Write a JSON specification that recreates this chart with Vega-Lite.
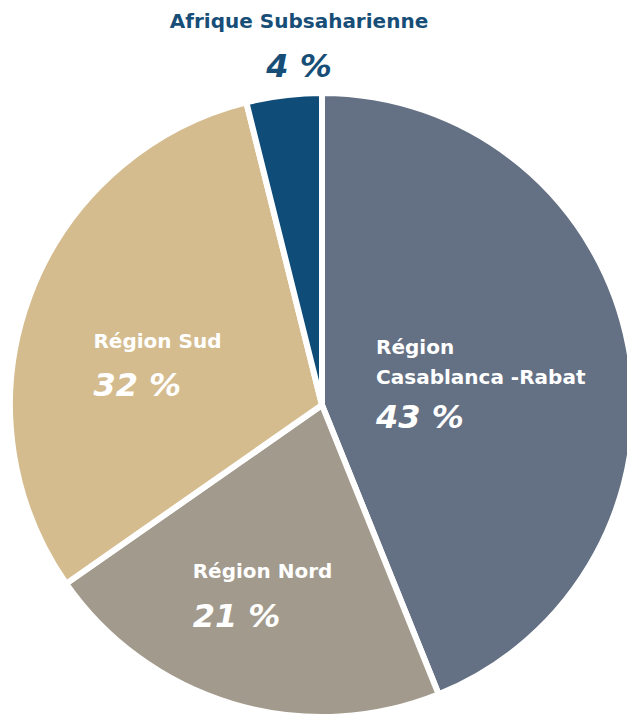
{
  "$schema": "https://vega.github.io/schema/vega-lite/v6.json",
  "width": 610,
  "height": 622,
  "autosize": {"type": "none"},
  "padding": {"left": 17, "top": 94, "right": 0, "bottom": 0},
  "background": "white",
  "config": {"view": {"stroke": null}},
  "data": {
    "values": [
      {"region": "Région Casablanca -Rabat", "name": "Région\nCasablanca -Rabat", "value": 43.9, "pct": "43 %", "rang": 1},
      {"region": "Région Nord", "name": "Région Nord", "value": 21.4, "pct": "21 %", "rang": 2},
      {"region": "Région Sud", "name": "Région Sud", "value": 30.8, "pct": "32 %", "rang": 3},
      {"region": "Afrique Subsaharienne", "name": "Afrique Subsaharienne", "value": 3.9, "pct": "4 %", "rang": 4}
    ]
  },
  "encoding": {
    "theta": {"field": "value", "type": "quantitative", "stack": true},
    "order": {"field": "rang", "type": "quantitative"}
  },
  "layer": [
    {
      "mark": {"type": "arc", "outerRadius": 312, "stroke": "white", "strokeWidth": 6},
      "encoding": {
        "color": {
          "field": "region",
          "type": "nominal",
          "legend": null,
          "scale": {
            "domain": ["Région Casablanca -Rabat", "Région Nord", "Région Sud", "Afrique Subsaharienne"],
            "range": ["#647083", "#A29A8C", "#D4BC8F", "#0F4D78"]
          }
        }
      }
    },
    {
      "mark": {"type": "text", "radius": 160, "dx": -103, "dy": -21, "align": "left", "baseline": "alphabetic", "lineBreak": "\n", "lineHeight": 30, "font": "DejaVu Sans", "fontWeight": "bold", "fontSize": 20, "color": "white"},
      "encoding": {"text": {"condition": {"test": "datum.rang === 1", "field": "name"}, "value": ""}}
    },
    {
      "mark": {"type": "text", "radius": 160, "dx": -103, "dy": 53, "align": "left", "baseline": "alphabetic", "font": "DejaVu Sans", "fontWeight": "bold", "fontStyle": "italic", "fontSize": 32, "color": "white"},
      "encoding": {"text": {"condition": {"test": "datum.rang === 1", "field": "pct"}, "value": ""}}
    },
    {
      "mark": {"type": "text", "radius": 180, "dx": -78, "dy": 0, "align": "left", "baseline": "alphabetic", "font": "DejaVu Sans", "fontWeight": "bold", "fontSize": 20, "color": "white"},
      "encoding": {"text": {"condition": {"test": "datum.rang === 2", "field": "name"}, "value": ""}}
    },
    {
      "mark": {"type": "text", "radius": 180, "dx": -78, "dy": 49, "align": "left", "baseline": "alphabetic", "font": "DejaVu Sans", "fontWeight": "bold", "fontStyle": "italic", "fontSize": 32, "color": "white"},
      "encoding": {"text": {"condition": {"test": "datum.rang === 2", "field": "pct"}, "value": ""}}
    },
    {
      "mark": {"type": "text", "radius": 180, "dx": -60, "dy": 6, "align": "left", "baseline": "alphabetic", "font": "DejaVu Sans", "fontWeight": "bold", "fontSize": 20, "color": "white"},
      "encoding": {"text": {"condition": {"test": "datum.rang === 3", "field": "name"}, "value": ""}}
    },
    {
      "mark": {"type": "text", "radius": 180, "dx": -60, "dy": 54, "align": "left", "baseline": "alphabetic", "font": "DejaVu Sans", "fontWeight": "bold", "fontStyle": "italic", "fontSize": 32, "color": "white"},
      "encoding": {"text": {"condition": {"test": "datum.rang === 3", "field": "pct"}, "value": ""}}
    },
    {
      "mark": {"type": "text", "radius": 360, "dx": 21, "dy": -20, "align": "center", "baseline": "alphabetic", "font": "DejaVu Sans", "fontWeight": "bold", "fontSize": 20, "color": "#174E78"},
      "encoding": {"text": {"condition": {"test": "datum.rang === 4", "field": "name"}, "value": ""}}
    },
    {
      "mark": {"type": "text", "radius": 360, "dx": 21, "dy": 29, "align": "center", "baseline": "alphabetic", "font": "DejaVu Sans", "fontWeight": "bold", "fontStyle": "italic", "fontSize": 32, "color": "#174E78"},
      "encoding": {"text": {"condition": {"test": "datum.rang === 4", "field": "pct"}, "value": ""}}
    }
  ]
}
